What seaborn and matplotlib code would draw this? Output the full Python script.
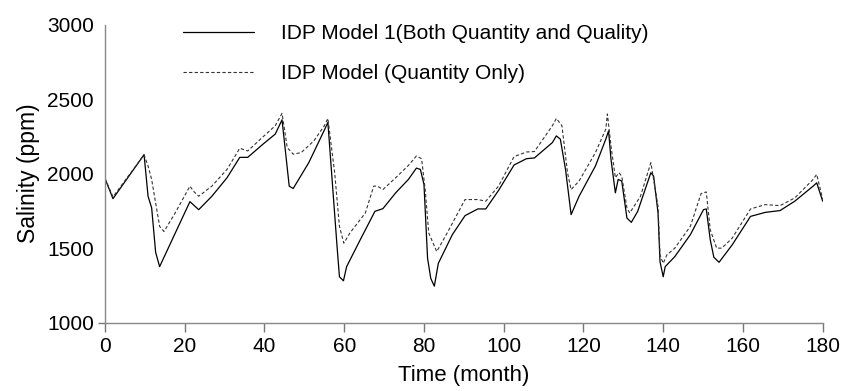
import matplotlib
matplotlib.use("Agg")
import matplotlib.pyplot as plt
import seaborn as sns
import pandas as pd

sns.set_theme(style="white")
plt.rcParams['font.family'] = ['Liberation Sans', 'DejaVu Sans']
plt.rcParams['text.color'] = 'black'
plt.rcParams['axes.labelcolor'] = 'black'

# values
months_m1 = [0, 2, 9.8, 10.8, 11.7, 12.7, 13.7, 17.6, 21.3, 23.5, 26.8, 30.6, 33.8, 35.8,
             39.6, 42.7, 44.4, 46.2, 47.2, 51.1, 55.0, 55.9, 58.2, 58.8, 59.8, 60.6, 63.8,
             67.7, 69.7, 72.9, 76.1, 78.1, 79.1, 80.0, 80.9, 81.7, 82.6, 83.6, 87.1, 90.3,
             93.5, 95.5, 98.7, 102.6, 105.7, 107.7, 112.2, 113.2, 114.2, 115.5, 116.9, 118.9,
             123.0, 125.6, 126.3, 126.9, 128.0, 128.7, 129.6, 130.9, 132.0, 133.6, 136.9,
             137.6, 138.7, 139.2, 140.0, 140.5, 142.9, 146.8, 150.1, 150.8, 151.8, 152.7,
             154.0, 157.3, 161.9, 165.6, 169.3, 173.0, 177.6, 178.5, 180]
salinity_m1 = [1967, 1832, 2127, 1848, 1770, 1472, 1376, 1600, 1812, 1758, 1848, 1972, 2109, 2109,
               2197, 2265, 2361, 1916, 1900, 2073, 2291, 2343, 1511, 1308, 1281, 1376, 1545,
               1747, 1765, 1871, 1961, 2037, 2028, 1927, 1432, 1297, 1245, 1398, 1590, 1718,
               1763, 1763, 1887, 2058, 2100, 2105, 2208, 2253, 2231, 2028, 1725, 1848,
               2051, 2231, 2287, 2096, 1871, 1961, 1950, 1702, 1673, 1747, 2006,
               1983, 1736, 1409, 1308, 1376, 1443, 1590, 1758, 1763, 1556, 1439,
               1405, 1522, 1713, 1740, 1752, 1815, 1916, 1938, 1815]

months_m2 = [0, 2, 9.8, 10.8, 11.7, 13.7, 14.8, 17.6, 21.3, 22.2, 23.5, 26.8, 30.6, 33.8,
             35.8, 39.6, 42.7, 44.4, 45.7, 47.2, 49.2, 52.4, 55.0, 55.9, 57.6, 58.8, 59.9,
             61.4, 65.3, 67.4, 68.3, 69.7, 72.9, 76.1, 78.1, 79.4, 80.3, 81.2, 83.2, 85.8,
             90.3, 93.5, 95.5, 98.7, 102.6, 105.7, 107.7, 112.2, 113.2, 114.6, 116.0, 116.9,
             118.9, 123.0, 125.6, 126.0, 126.9, 128.0, 128.9, 129.6, 130.9, 131.6, 134.3,
             136.9, 138.7, 139.2, 140.0, 140.9, 142.9, 146.8, 149.5, 150.8, 151.8, 153.4,
             154.7, 157.3, 161.9, 165.6, 169.3, 173.0, 177.6, 178.5, 180]
salinity_m2 = [1967, 1844, 2127, 2051, 1961, 1646, 1612, 1736, 1916, 1882, 1848, 1916, 2028, 2170,
               2152, 2246, 2321, 2404, 2175, 2130, 2141, 2220, 2321, 2370, 2006, 1646, 1533,
               1601, 1736, 1916, 1916, 1893, 1972, 2055, 2118, 2100, 1893, 1601, 1477, 1601,
               1826, 1826, 1815, 1916, 2114, 2145, 2148, 2321, 2370, 2321, 2006, 1893,
               1950, 2141, 2298, 2400, 2186, 1972, 2006, 1983, 1770, 1736, 1848,
               2073, 1781, 1454, 1398, 1454, 1500, 1646, 1866, 1877, 1623, 1500,
               1500, 1567, 1763, 1792, 1785, 1837, 1961, 1995, 1826]

label_m1 = "IDP Model 1(Both Quantity and Quality)"
label_m2 = "IDP Model (Quantity Only)"

df1 = pd.DataFrame({"month": months_m1, "salinity": salinity_m1})
df2 = pd.DataFrame({"month": months_m2, "salinity": salinity_m2})

fig = plt.figure(figsize=(8.44, 3.91), dpi=100)
ax = fig.add_axes([105 / 844, 1 - 322.7 / 391, (822.7 - 105) / 844, (322.7 - 24.5) / 391])

sns.lineplot(data=df1, x="month", y="salinity", ax=ax, color="black", linewidth=0.9,
             label=label_m1, sort=False)
sns.lineplot(data=df2, x="month", y="salinity", ax=ax, color="#333333", linewidth=0.8,
             linestyle=(0, (3, 2)), label=label_m2, sort=False)

ax.set_xlim(0, 180)
ax.set_ylim(1000, 3000)
ax.set_xticks(range(0, 181, 20))
ax.set_yticks([1000, 1500, 2000, 2500, 3000])

sns.despine(ax=ax)
for s in ["left", "bottom"]:
    ax.spines[s].set_color("#888888")
    ax.spines[s].set_linewidth(1.0)

ax.tick_params(axis="x", length=6.5, width=1, color="#777777", labelsize=15, pad=4,
               labelcolor="black", bottom=True)
ax.tick_params(axis="y", length=5, width=1, color="#777777", labelsize=15, pad=3,
               labelcolor="black", left=True)
for t in ax.yaxis.get_major_ticks()[1:]:
    t.tick1line.set_visible(False)

ax.set_xlabel("Time (month)", fontsize=16, labelpad=6.5)
ax.set_ylabel("Salinity (ppm)", fontsize=16.5, labelpad=5)

ax.legend(frameon=False, loc="upper left", bbox_to_anchor=(183 / 844, 1 - 24 / 391),
          bbox_transform=fig.transFigure, fontsize=15, handlelength=3.4,
          handletextpad=1.3, labelspacing=1.0, borderpad=0, borderaxespad=0)

fig.savefig("out.png", dpi=100)
